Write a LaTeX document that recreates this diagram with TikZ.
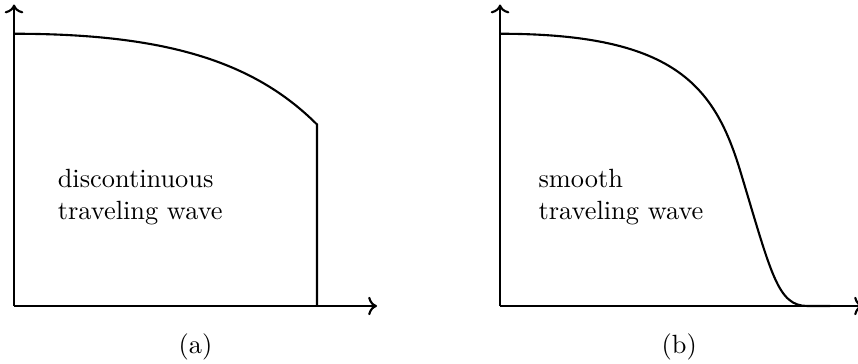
\documentclass[tikz,border=0pt]{standalone}
\usetikzlibrary{arrows.meta, positioning}
\tikzset{
  axis/.style={->, thick},
  wave/.style={thick},
  lbl/.style={anchor=base west, align=left},
  subcap/.style={anchor=center},
}
\begin{document}
\begin{tikzpicture}
  \useasboundingbox (-0.187,-0.76) rectangle (11.253,4.08);

  % (a) discontinuous
  \coordinate (oa) at (0,0);
  \coordinate (xa) at (4.84,0);
  \coordinate (ya) at (0,4.02);
  \draw[axis] (oa) -- (xa);
  \draw[axis] (oa) -- (ya);
  \draw[wave] (0,3.63) .. controls (2,3.63) and (3.19,3.27) .. (4.04,2.42) -- (4.04,0);
  \node[lbl] (ta) at (0.46,1.16) {discontinuous\\traveling wave};
  \node[subcap] (ca) at (2.42,-0.55) {(a)};

  % (b) smooth
  \begin{scope}[xshift=6.48cm]
    \coordinate (ob) at (0,0);
    \coordinate (xb) at (4.84,0);
    \coordinate (yb) at (0,4.02);
    \draw[axis] (ob) -- (xb);
    \draw[axis] (ob) -- (yb);
    \draw[wave] (0,3.63) .. controls (2.3,3.63) and (2.85,2.96) .. (3.2,1.81)
      .. controls (3.62,0.42) and (3.7,0) .. (4.1,0) -- (4.4,0);
    \node[lbl] (tb) at (0.39,1.16) {smooth\\traveling wave};
    \node[subcap] (cb) at (2.39,-0.55) {(b)};
  \end{scope}
\end{tikzpicture}
\end{document}
